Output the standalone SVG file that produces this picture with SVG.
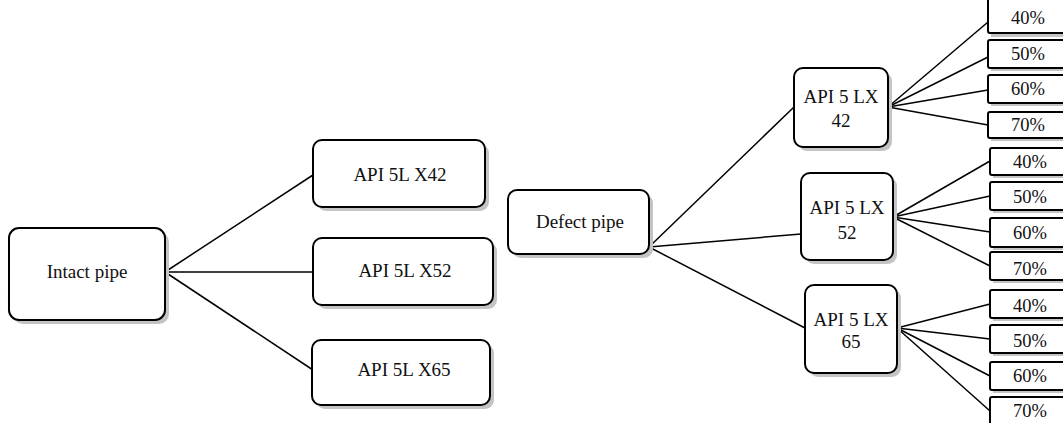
<svg xmlns="http://www.w3.org/2000/svg" width="1063" height="423" viewBox="0 0 1063 423">
<style>
.bx{fill:#fff;stroke:#000;stroke-width:2}
.sh{fill:#c4c4c4}
.t{font-family:"Liberation Serif","Times New Roman",serif;font-size:19px;text-anchor:middle;fill:#111}
.p{font-family:"Liberation Serif","Times New Roman",serif;font-size:18.5px;text-anchor:middle;fill:#111}
#connectors line{stroke:#000;stroke-width:1.5}
</style>
<rect width="1063" height="423" fill="#fff"/>
<g id="connectors">
<line x1="165" y1="272" x2="313" y2="175"/>
<line x1="165" y1="272" x2="313" y2="272"/>
<line x1="165" y1="272" x2="313" y2="370"/>
<line x1="649" y1="247" x2="794" y2="107"/>
<line x1="649" y1="247" x2="801" y2="234"/>
<line x1="649" y1="247" x2="805" y2="328"/>
<line x1="888" y1="107" x2="988" y2="22"/>
<line x1="888" y1="107" x2="988" y2="57"/>
<line x1="888" y1="107" x2="988" y2="90"/>
<line x1="888" y1="107" x2="988" y2="125"/>
<line x1="893" y1="217" x2="990" y2="161"/>
<line x1="893" y1="217" x2="990" y2="196"/>
<line x1="893" y1="217" x2="990" y2="232"/>
<line x1="893" y1="217" x2="990" y2="266"/>
<line x1="897" y1="328" x2="990" y2="304"/>
<line x1="897" y1="328" x2="990" y2="339"/>
<line x1="897" y1="328" x2="990" y2="376"/>
<line x1="897" y1="328" x2="990" y2="411"/>
</g>
<g id="intact"><rect class="sh" x="13" y="232" width="156" height="92" rx="10"/><rect class="bx" x="9" y="228" width="156" height="92" rx="10"/><text class="t" x="87" y="278">Intact pipe</text></g>
<g id="x42"><rect class="sh" x="317" y="144" width="172" height="67" rx="9"/><rect class="bx" x="313" y="140" width="172" height="67" rx="9"/><text class="t" x="400" y="181">API 5L X42</text></g>
<g id="x52"><rect class="sh" x="317" y="242" width="180" height="67" rx="9"/><rect class="bx" x="313" y="238" width="180" height="67" rx="9"/><text class="t" x="405" y="277">API 5L X52</text></g>
<g id="x65"><rect class="sh" x="316" y="344" width="178" height="65" rx="9"/><rect class="bx" x="312" y="340" width="178" height="65" rx="9"/><text class="t" x="404" y="376">API 5L X65</text></g>
<g id="defect"><rect class="sh" x="512" y="194" width="141" height="64" rx="9"/><rect class="bx" x="508" y="190" width="141" height="64" rx="9"/><text class="t" x="580" y="228">Defect pipe</text></g>
<g id="lx42"><rect class="sh" x="798" y="72" width="94" height="79" rx="9"/><rect class="bx" x="794" y="68" width="94" height="79" rx="9"/><text class="t" x="841" y="103">API 5 LX</text><text class="t" x="841" y="127">42</text></g>
<g id="lx52"><rect class="sh" x="805" y="177" width="92" height="87" rx="9"/><rect class="bx" x="801" y="173" width="92" height="87" rx="9"/><text class="t" x="847" y="214">API 5 LX</text><text class="t" x="847" y="239">52</text></g>
<g id="lx65"><rect class="sh" x="809" y="289" width="92" height="88" rx="9"/><rect class="bx" x="805" y="285" width="92" height="88" rx="9"/><text class="t" x="851" y="326">API 5 LX</text><text class="t" x="851" y="348">65</text></g>
<g id="g1p40"><rect class="sh" x="991" y="0" width="80" height="37"/><rect class="bx" x="988" y="-4" width="80" height="37" rx="2"/><text class="p" x="1028" y="24">40%</text></g>
<g id="g1p50"><rect class="sh" x="991" y="43" width="80" height="28"/><rect class="bx" x="988" y="40" width="80" height="28" rx="2"/><text class="p" x="1028" y="60">50%</text></g>
<g id="g1p60"><rect class="sh" x="991" y="78" width="80" height="28"/><rect class="bx" x="988" y="75" width="80" height="28" rx="2"/><text class="p" x="1028" y="95">60%</text></g>
<g id="g1p70"><rect class="sh" x="991" y="115" width="80" height="26"/><rect class="bx" x="988" y="112" width="80" height="26" rx="2"/><text class="p" x="1028" y="131">70%</text></g>
<g id="g2p40"><rect class="sh" x="993" y="151" width="80" height="27"/><rect class="bx" x="990" y="148" width="80" height="27" rx="2"/><text class="p" x="1030" y="168">40%</text></g>
<g id="g2p50"><rect class="sh" x="993" y="185" width="80" height="28"/><rect class="bx" x="990" y="182" width="80" height="28" rx="2"/><text class="p" x="1030" y="203">50%</text></g>
<g id="g2p60"><rect class="sh" x="993" y="221" width="80" height="29"/><rect class="bx" x="990" y="218" width="80" height="29" rx="2"/><text class="p" x="1030" y="239">60%</text></g>
<g id="g2p70"><rect class="sh" x="993" y="255" width="80" height="28"/><rect class="bx" x="990" y="252" width="80" height="28" rx="2"/><text class="p" x="1030" y="275">70%</text></g>
<g id="g3p40"><rect class="sh" x="993" y="293" width="80" height="28"/><rect class="bx" x="990" y="290" width="80" height="28" rx="2"/><text class="p" x="1030" y="312">40%</text></g>
<g id="g3p50"><rect class="sh" x="993" y="328" width="80" height="28"/><rect class="bx" x="990" y="325" width="80" height="28" rx="2"/><text class="p" x="1030" y="347">50%</text></g>
<g id="g3p60"><rect class="sh" x="993" y="365" width="80" height="28"/><rect class="bx" x="990" y="362" width="80" height="28" rx="2"/><text class="p" x="1030" y="382">60%</text></g>
<g id="g3p70"><rect class="sh" x="993" y="400" width="80" height="28"/><rect class="bx" x="990" y="397" width="80" height="28" rx="2"/><text class="p" x="1030" y="417">70%</text></g>
</svg>
